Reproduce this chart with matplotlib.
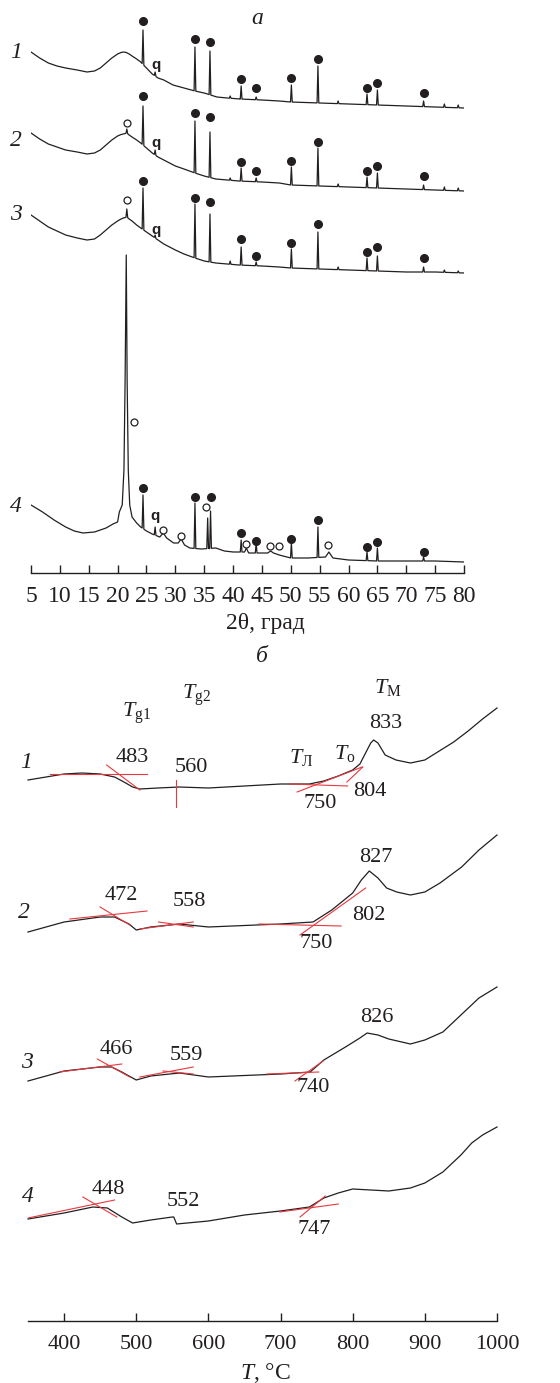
"""XRD patterns (a) and DTA curves (b) of four glass samples."""
import numpy as np
import matplotlib
matplotlib.use("Agg")
import matplotlib.pyplot as plt

plt.rcParams["font.family"] = ["Liberation Serif", "DejaVu Serif"]
plt.rcParams["mathtext.fontset"] = "custom"
plt.rcParams["mathtext.rm"] = "Liberation Serif"
plt.rcParams["mathtext.it"] = "Liberation Serif:italic"

INK = "#231f20"
RED = "#e8383d"

# ---------------- panel a: XRD, intensity in arbitrary units ----------------
xrd1_bx = [5, 6.5, 8, 9.5, 11, 13, 14.7, 16, 17, 18, 19, 20, 20.6, 21, 21.5, 22, 22.5, 23.3, 24,
           25, 26, 27, 28, 29.6, 31.5, 33.4, 35, 37.2, 39, 41.2, 45, 48, 50, 55, 60, 65, 70, 75, 80]
xrd1_by = [521, 515, 510, 507, 505, 503, 501, 502, 505, 510, 515, 519, 520.5, 521, 520.5, 519,
           517, 514, 511, 505, 499, 495, 493, 488, 485, 482, 480, 476, 475, 474, 473, 472, 471,
           470, 469, 468, 467, 466, 465]
xrd1_px = [24.4, 26.5, 33.4, 36.0, 39.5, 41.4, 44.0, 50.1, 54.7, 58.2, 63.2, 65.0, 73.0, 76.6, 79.0]
xrd1_py = [543, 501, 526, 522, 477, 487, 476, 488, 507, 472, 479, 483, 472, 469, 468]

xrd2_bx = [5, 6.5, 8, 9.5, 11, 13, 14.7, 16, 17, 18, 19, 20, 20.6, 21, 21.6, 22, 22.5, 23.3, 24,
           25, 26, 27, 28, 30, 31.5, 33.4, 35, 37, 41, 45, 48, 50, 55, 60, 65, 70, 75, 80]
xrd2_by = [440, 434, 429, 426, 423, 421, 419, 420, 423, 428, 433, 437, 438.5, 439, 440, 438,
           436, 433, 430, 425, 420, 416, 413, 407, 404, 400, 397, 394, 392, 391, 390, 388, 387,
           386, 385, 384, 383, 382]
xrd2_px = [21.6, 24.4, 26.5, 33.4, 36.0, 39.5, 41.4, 44.0, 50.1, 54.7, 58.2, 63.2, 65.0, 73.0, 76.6, 79.0]
xrd2_py = [444, 467, 423, 452, 441, 395, 405, 395, 406, 425, 389, 396, 400, 388, 386, 385]

xrd3_bx = [5, 6.5, 8, 9.5, 11, 13, 14.7, 16, 17, 18, 19, 20, 20.6, 21, 21.6, 22, 22.5, 23.3, 24,
           25, 26, 27, 28, 30, 31.5, 33.4, 35, 37, 41, 45, 48, 50, 55, 60, 65, 70, 75, 80]
xrd3_by = [358, 352, 346, 342, 338, 335, 333, 334, 338, 343, 348, 352, 354, 355, 356, 354,
           352, 348, 345, 341, 337, 333, 329, 323, 319, 315, 312, 310, 308, 307, 306, 305, 304,
           303, 302, 301, 301, 300]
xrd3_px = [21.6, 24.4, 26.5, 33.4, 36.0, 39.5, 41.4, 44.0, 50.1, 54.7, 58.2, 63.2, 65.0, 73.0, 76.6, 79.0]
xrd3_py = [364, 385, 338, 369, 359, 312, 326, 311, 324, 341, 306, 315, 317, 306, 303, 302]

xrd4_bx = [5, 7, 9, 11, 12.5, 14, 16, 18, 19.2, 20.0, 20.3, 20.8, 21.1, 21.3, 21.5, 21.65, 21.85,
           22.1, 22.5, 23.3, 24.0, 25.0, 26.0, 27.3, 27.9, 28.5, 29.7, 30.5, 31.0, 31.6, 32.5,
           34.5, 37, 38.5, 40, 42.0, 42.3, 42.7, 46, 46.5, 47, 48, 50, 53, 56, 56.6, 57.3, 60,
           65, 70, 75, 80]
xrd4_by = [68, 61, 53, 46, 42, 40, 41, 45, 49, 51, 61, 68, 103, 193, 318, 193, 103, 68, 56, 50,
           46, 42, 39, 36, 40, 35, 30, 30, 34, 28, 25, 24, 25, 22, 21, 21, 25, 20, 20, 22, 20,
           18, 15, 15, 16, 21, 15, 13, 12, 12, 12, 11]
xrd4_px = [24.4, 26.5, 33.4, 35.6, 36.1, 41.4, 44.0, 50.1, 54.7, 63.2, 65.0, 73.0]
xrd4_py = [78, 46, 70, 55, 62, 33, 30, 30, 46, 21, 25, 16]

# phase markers: filled = crystalline phase, open = second phase, q = quartz
dot_x = [24.4, 33.4, 36.0, 41.4, 44.0, 50.1, 54.7, 63.2, 65.0, 73.0]
dot1_y = [552, 534, 531, 494, 485, 495, 514, 485, 490, 480]
dot2_y = [477, 460, 456, 411, 402, 412, 431, 402, 407, 397]
dot3_y = [392, 375, 371, 334, 317, 330, 349, 321, 326, 315]
dot4_x = [24.4, 33.4, 36.1, 41.4, 44.0, 50.1, 54.7, 63.2, 65.0, 73.0]
dot4_y = [85, 76, 76, 40, 32, 34, 53, 26, 31, 21]
open_x = [21.6, 21.6, 22.85, 27.9, 31.0, 35.3, 42.3, 46.4, 48.0, 56.5]
open_y = [450, 373, 151, 43, 37, 66, 29, 27, 27, 28]
q_x = [26.7, 26.7, 26.7, 26.5]
q_y = [508, 430, 343, 57]
xrd_ticks = list(range(5, 81, 5))

# ---------------- panel b: DTA, signal in arbitrary units ----------------
dta1_T = [350, 375, 400, 425, 450, 470, 483, 495, 505, 530, 560, 600, 650, 700, 740, 760, 780,
          800, 810, 820, 825, 829, 835, 845, 860, 880, 900, 920, 940, 960, 980, 1000]
dta1_s = [541, 544, 547, 548, 547, 544, 539, 534, 532, 533, 534, 533, 535, 537, 537, 540, 545,
          551, 557, 571, 578, 581, 578, 566, 561, 558, 561, 570, 579, 590, 602, 613]
dta2_T = [350, 400, 450, 470, 490, 500, 520, 560, 600, 700, 745, 771, 800, 812, 823, 835, 847,
          861, 880, 900, 921, 951, 975, 1000]
dta2_s = [389, 399, 404, 404, 397, 391, 394, 397, 394, 397, 399, 411, 428, 441, 450, 443, 433,
          429, 426, 429, 438, 454, 471, 486]
dta3_T = [350, 400, 450, 466, 480, 500, 520, 560, 600, 700, 741, 760, 790, 810, 820, 835, 850,
          880, 900, 925, 950, 975, 1000]
dta3_s = [240, 250, 254, 254, 249, 241, 245, 248, 244, 247, 249, 261, 274, 283, 288, 286, 282,
          277, 281, 289, 306, 323, 334]
dta4_T = [350, 400, 440, 460, 480, 495, 520, 550, 552, 556, 600, 650, 700, 740, 760, 780, 800,
          850, 880, 900, 925, 950, 965, 980, 1000]
dta4_s = [102, 108, 114, 113, 104, 98, 101, 104, 104, 97, 100, 106, 110, 114, 123, 128, 132,
          130, 133, 138, 149, 166, 178, 186, 194]

# tangent constructions (red), one (T0, T1) / (s0, s1) pair per segment
tan_T = [(380, 515), (459, 505), (555, 555), (713, 793), (723, 813), (792, 814),
         (408, 515), (450, 491), (505, 579), (531, 579), (670, 784), (727, 818),
         (394, 480), (446, 491), (505, 579), (537, 579), (681, 753), (720, 759),
         (350, 470), (426, 473), (699, 780), (727, 762)]
tan_s = [(547, 547), (556, 531), (541, 514), (537, 535), (529, 554), (539, 554),
         (402, 410), (414, 396), (392, 399), (399, 394), (397, 395), (386, 433),
         (249, 257), (262, 244), (244, 254), (250, 247), (247, 249), (240, 260),
         (103, 121), (124, 104), (109, 117), (104, 125)]
dta_ticks = list(range(400, 1001, 100))


def xrd_trace(bx, by, px, py, hw=0.15):
    """Baseline readings with narrow triangular reflections on top."""
    bx = np.asarray(bx, float)
    by = np.asarray(by, float)
    keep = np.ones(len(bx), bool)
    for p in px:
        keep &= ~((bx > p - hw - 1e-9) & (bx < p + hw + 1e-9))
    x, y = list(bx[keep]), list(by[keep])
    for p, top in zip(px, py):
        x += [p - hw, p, p + hw]
        y += [np.interp(p - hw, bx, by), top, np.interp(p + hw, bx, by)]
    order = np.argsort(x, kind="stable")
    return np.asarray(x)[order], np.asarray(y)[order]


def bottom_axis_only(ax):
    for side in ("left", "right", "top"):
        ax.spines[side].set_visible(False)
    ax.spines["bottom"].set_color(INK)
    ax.spines["bottom"].set_linewidth(1.0)
    ax.set_yticks([])
    ax.tick_params(axis="x", direction="in", length=6, width=1.0, color=INK, labelcolor=INK)
    ax.patch.set_alpha(0)


W, H = 560, 1383
fig = plt.figure(figsize=(W / 100, H / 100), dpi=100)

# ---- panel a ----
ax1 = fig.add_axes([31 / W, 1 - 573 / H, 433 / W, 563 / H])
bottom_axis_only(ax1)
ax1.set_xlim(5, 80)
ax1.set_ylim(0, 563)
ax1.set_xticks(xrd_ticks)
ax1.tick_params(axis="x", labelsize=17, pad=9)
for bx, by, px, py in [(xrd1_bx, xrd1_by, xrd1_px, xrd1_py),
                       (xrd2_bx, xrd2_by, xrd2_px, xrd2_py),
                       (xrd3_bx, xrd3_by, xrd3_px, xrd3_py),
                       (xrd4_bx, xrd4_by, xrd4_px, xrd4_py)]:
    x, y = xrd_trace(bx, by, px, py)
    ax1.plot(x, y, color=INK, lw=0.9)
for yy in (dot1_y, dot2_y, dot3_y):
    ax1.plot(dot_x, yy, "o", ls="none", ms=5.5, color=INK, clip_on=False)
ax1.plot(dot4_x, dot4_y, "o", ls="none", ms=5.5, color=INK, clip_on=False)
ax1.plot(open_x, open_y, "o", ls="none", ms=5, mfc="white", mec=INK, mew=0.9, clip_on=False)
for xq, yq in zip(q_x, q_y):
    ax1.text(xq, yq, "q", family="Liberation Sans", weight="bold", fontsize=11,
             color=INK, ha="center", va="center")
for lab, yl in zip(["1", "2", "3", "4"], [520, 433, 358, 66]):
    ax1.text(2.4, yl, lab, fontsize=17, style="italic", color=INK, ha="center", va="center")
fig.text(265 / W, 1 - 623 / H, "2θ, град", fontsize=17, color=INK, ha="center", va="center")
fig.text(257 / W, 1 - 19 / H, "а", fontsize=17, style="italic", color=INK,
         ha="center", va="center")
fig.text(262 / W, 1 - 656 / H, "б", fontsize=17, style="italic", color=INK,
         ha="center", va="center")

# ---- panel b ----
ax2 = fig.add_axes([28 / W, 1 - 1321 / H, 469 / W, 661 / H])
bottom_axis_only(ax2)
ax2.set_xlim(350, 1000)
ax2.set_ylim(0, 661)
ax2.set_xticks(dta_ticks)
ax2.tick_params(axis="x", labelsize=16, pad=10)
for (t0, t1), (s0, s1) in zip(tan_T, tan_s):
    ax2.plot([t0, t1], [s0, s1], color=RED, lw=0.8, zorder=3)
for T, s in [(dta1_T, dta1_s), (dta2_T, dta2_s), (dta3_T, dta3_s), (dta4_T, dta4_s)]:
    ax2.plot(T, s, color=INK, lw=0.9, zorder=2, clip_on=False)

num_kw = dict(fontsize=16, color=INK, ha="center", va="center")
for txt, T, s in [("483", 495, 564), ("560", 576, 554), ("750", 755, 517), ("804", 824, 530),
                  ("833", 846, 598), ("472", 480, 426), ("558", 573, 419), ("750", 750, 378),
                  ("802", 823, 406), ("827", 832, 463), ("466", 473, 271), ("559", 569, 266),
                  ("740", 745, 233), ("826", 834, 303), ("448", 462, 131), ("552", 566, 119),
                  ("747", 746, 92)]:
    ax2.text(T, s, txt, **num_kw)
for txt, T, s in [(r"$T_{\mathrm{g1}}$", 500, 608), (r"$T_{\mathrm{g2}}$", 584, 626),
                  (r"$T_{\mathrm{Л}}$", 728, 563), (r"$T_{\mathrm{o}}$", 789, 568),
                  (r"$T_{\mathrm{М}}$", 849, 634)]:
    ax2.text(T, s, txt, **num_kw)
for lab, T, s in [("1", 347, 558), ("2", 345, 408), ("3", 349, 259), ("4", 350, 124)]:
    ax2.text(T, s, lab, fontsize=17, style="italic", color=INK, ha="center", va="center")
fig.text(265 / W, 1 - 1373 / H, r"$T$, °C", fontsize=17, color=INK, ha="center", va="center")

fig.savefig("out.png", dpi=100)
